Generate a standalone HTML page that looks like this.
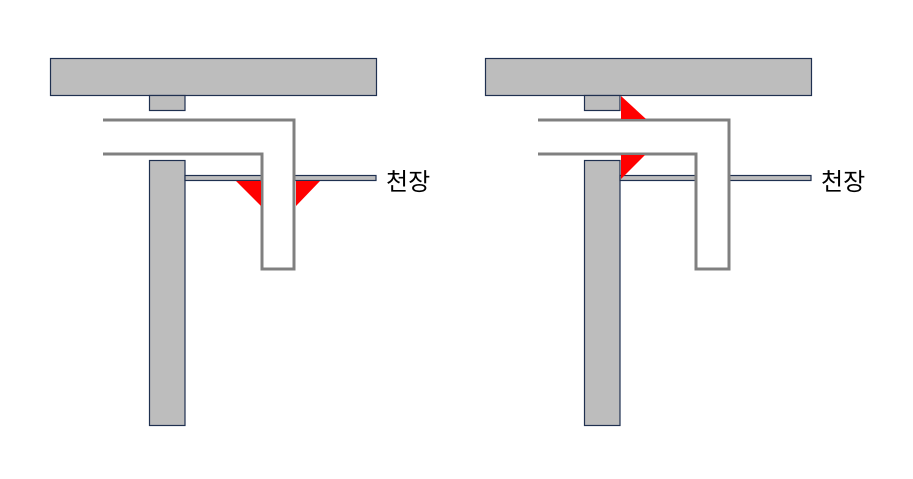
<!DOCTYPE html>
<html><head><meta charset="utf-8"><style>body{margin:0;background:#fff}</style></head><body>
<svg width="913" height="474" xmlns="http://www.w3.org/2000/svg">
<g stroke="#1f3050" stroke-width="1.2" fill="#bdbdbd">
<rect x="50.5" y="58.5" width="326" height="37"/>
<rect x="149.5" y="95.5" width="35.5" height="15"/>
<rect x="149.5" y="160.5" width="35.5" height="265"/>
<rect x="185" y="175.5" width="191" height="5"/>
</g>
<polygon points="103,120 294,120 294,269 262,269 262,154 103,154" fill="#fff" stroke="none"/>
<polyline points="103,120 294,120 294,269 262,269 262,154 103,154" fill="none" stroke="#808080" stroke-width="3"/>
<polygon points="236,181 261,181 261,206" fill="#f00"/>
<polygon points="296,181 320,181 296,206" fill="#f00"/>
<text x="386" y="190" font-family="Liberation Sans, Noto Sans CJK KR, sans-serif" font-size="24">천장</text>

<g stroke="#1f3050" stroke-width="1.2" fill="#bdbdbd">
<rect x="485.5" y="58.5" width="326" height="37"/>
<rect x="584.5" y="95.5" width="35.5" height="15"/>
<rect x="584.5" y="160.5" width="35.5" height="265"/>
<rect x="620" y="175.5" width="191" height="5"/>
</g>
<polygon points="538,120 729,120 729,269 696,269 696,154 538,154" fill="#fff" stroke="none"/>
<polyline points="538,120 729,120 729,269 696,269 696,154 538,154" fill="none" stroke="#808080" stroke-width="3"/>
<polygon points="621,96 646,119 621,119" fill="#f00"/>
<polygon points="621,155 645,155 621,179" fill="#f00"/>
<text x="821" y="190" font-family="Liberation Sans, Noto Sans CJK KR, sans-serif" font-size="24">천장</text>
</svg>
</body></html>
